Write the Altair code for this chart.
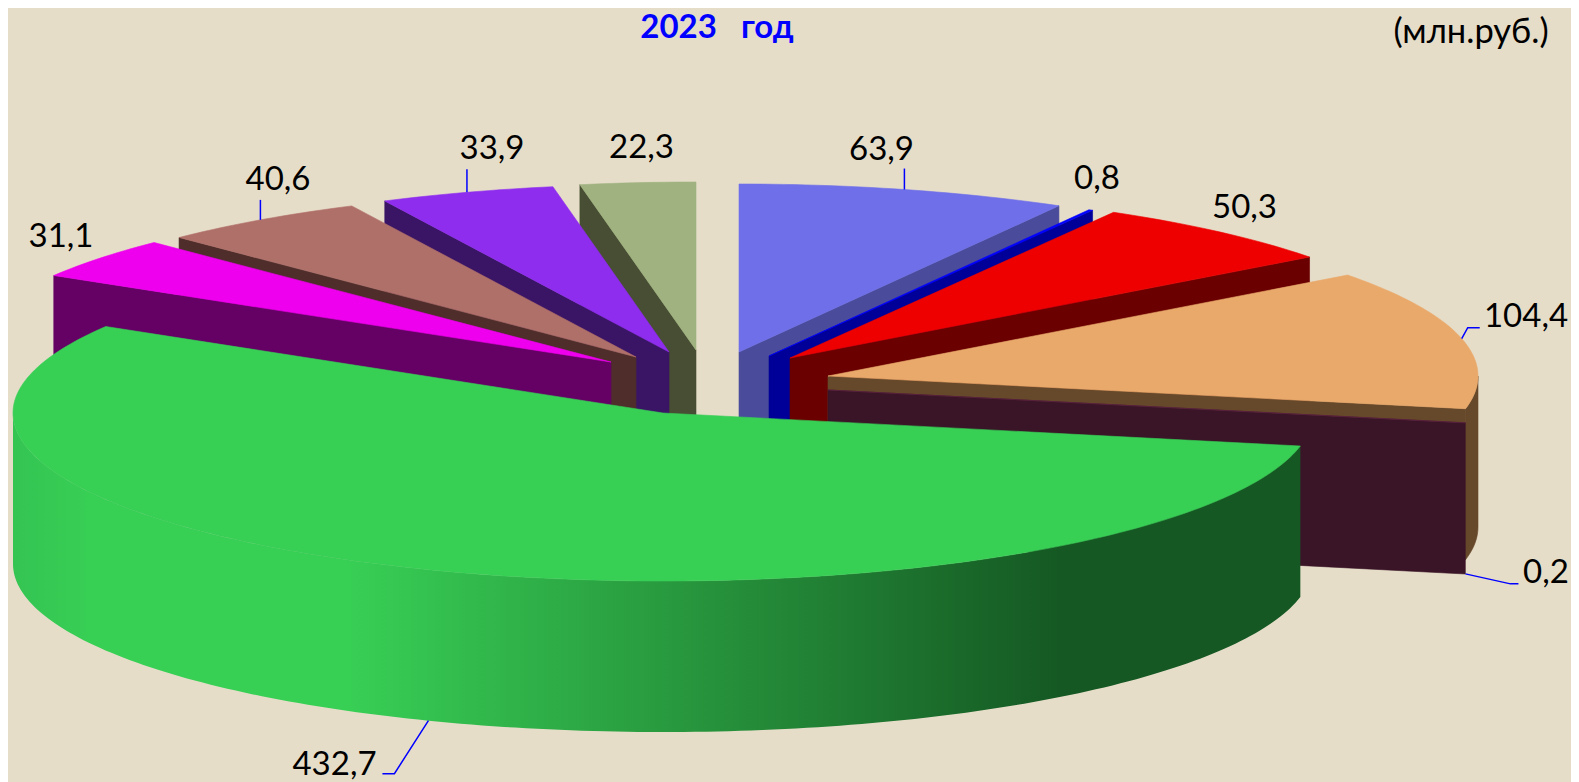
import math
import altair as alt
import pandas as pd

# ---- data (clockwise from 12 o'clock) ----
values = [63.9, 0.8, 50.3, 104.4, 0.2, 432.7, 31.1, 40.6, 33.9, 22.3]
top_colors = ["#6E6FE9", "#0000FF", "#EE0000", "#E9A96B", "#5A2240",
              "#38CF55", "#EE00EE", "#B0706A", "#8E2DEE", "#9FB27F"]
wall_colors = ["#4A4C9B", "#000099", "#6A0000", "#66482A", "#3A1527",
               "#155823", "#650065", "#4E2D2B", "#3B1565", "#474E33"]
title_text = "2023\u00a0\u00a0\u00a0год"
unit_text = "(млн.руб.)"

# ---- layout of the tilted, exploded pie (page pixels) ----
RX, RY, DEPTH = 650, 168, 151
pivots = [(739, 352), (769, 356), (790, 358), (828, 376), (828, 390),
          (663, 413), (611, 362), (636, 357), (669, 352), (696, 350)]
label_pos = [(881.5, 160), (1097, 189), (1244.5, 218), (1526, 327), (1546, 583),
             (334.5, 775), (61, 247), (278, 190), (492, 159), (641.5, 158)]
# leader bends, relative to the anchor on the rim of each slice
leader_steps = {0: [(0, -21)], 3: [(6, -11), (18, -11)], 4: [(45, 10), (53, 10)],
                5: [(-34, 53), (-46, 53)], 7: [(0, -20)], 8: [(0, -23)]}
FONT = "Lato"
LABEL_SIZE = 33
W, H = 1563, 774
BG = "#E6DDC9"

xs = alt.X("x:Q", scale=alt.Scale(domain=[8, 8 + W], nice=False, zero=False), axis=None)
ys = alt.Y("y:Q", scale=alt.Scale(domain=[8 + H, 8], nice=False, zero=False), axis=None)

total = sum(values)
bounds = [0.0]
for v in values:
    bounds.append(bounds[-1] + v / total * 360)


def rim(i, deg):
    t = math.radians(deg)
    return pivots[i][0] + RX * math.sin(t), pivots[i][1] - RY * math.cos(t)


def arc(i, a, b):
    n = max(2, int(abs(b - a)) + 2)
    return [rim(i, a + (b - a) * k / (n - 1)) for k in range(n)]


def poly(points, fill, seam=True):
    df = pd.DataFrame({"x": [p[0] for p in points] + [points[0][0]],
                       "y": [p[1] for p in points] + [points[0][1]]})
    df["i"] = range(len(df))
    mark = alt.Chart(df).mark_line(fill=fill, stroke=fill if seam else "transparent",
                                   strokeWidth=0.6 if seam else 0, clip=False)
    return mark.encode(x=xs, y=ys, order=alt.Order("i:Q"))


def top_face(i):
    return poly([pivots[i]] + arc(i, bounds[i], bounds[i + 1]), top_colors[i])


def cut_face(i, deg):
    p, r = pivots[i], rim(i, deg)
    return poly([p, r, (r[0], r[1] + DEPTH), (p[0], p[1] + DEPTH)], wall_colors[i])


def outer_wall(i, a, b, fill, seam=True):
    upper = arc(i, a, b)
    lower = [(x, y + DEPTH) for x, y in reversed(upper)]
    return poly(upper + lower, fill, seam)


layers = []
# right half, back to front
for i in range(0, 5):
    layers.append(cut_face(i, bounds[i + 1]))
    if i == 3:
        layers.append(outer_wall(i, 90, bounds[i + 1], wall_colors[i]))
    layers.append(top_face(i))
# left half, back to front
for i in range(9, 5, -1):
    layers.append(cut_face(i, bounds[i]))
    layers.append(top_face(i))
# the big slice in front
green_fill = alt.LinearGradient(
    gradient="linear", x1=0, x2=1, y1=0, y2=0,
    stops=[alt.GradientStop(offset=0, color="#34C452"),
           alt.GradientStop(offset=0.06, color="#38CF55"),
           alt.GradientStop(offset=0.26, color="#38CF55"),
           alt.GradientStop(offset=0.813, color="#155823"),
           alt.GradientStop(offset=1, color="#155823")])
layers.append(outer_wall(5, bounds[5], 270, green_fill, seam=False))
layers.append(top_face(5))

# leaders
rows = []
for i, steps in leader_steps.items():
    mid = (bounds[i] + bounds[i + 1]) / 2
    ax, ay = rim(i, mid)
    if i in (4, 5):
        ay += DEPTH
    rows.append({"s": i, "i": 0, "x": ax, "y": ay})
    for k, (dx, dy) in enumerate(steps, 1):
        rows.append({"s": i, "i": k, "x": ax + dx, "y": ay + dy})
layers.append(alt.Chart(pd.DataFrame(rows)).mark_line(stroke="#0000FF", strokeWidth=1.5).encode(
    x=xs, y=ys, detail="s:N", order=alt.Order("i:Q")))

# value labels
labels = pd.DataFrame({"x": [p[0] for p in label_pos], "y": [p[1] for p in label_pos],
                       "t": [f"{v:.1f}".replace(".", ",") for v in values]})
layers.append(alt.Chart(labels).mark_text(font=FONT, fontSize=LABEL_SIZE, color="#000000",
                                          align="center", baseline="alphabetic").encode(
    x=xs, y=ys, text="t:N"))

# title and unit
layers.append(alt.Chart(pd.DataFrame({"x": [717], "y": [38], "t": [title_text]})).mark_text(
    font=FONT, fontSize=33, fontWeight="bold", color="#0000FF", align="center",
    baseline="alphabetic").encode(x=xs, y=ys, text="t:N"))
layers.append(alt.Chart(pd.DataFrame({"x": [1471], "y": [43], "t": [unit_text]})).mark_text(
    font=FONT, fontSize=34.5, color="#000000", align="center",
    baseline="alphabetic").encode(x=xs, y=ys, text="t:N"))

chart = alt.layer(*layers).properties(
    width=W, height=H, background=BG, padding=0,
    autosize=alt.AutoSizeParams(type="none"),
).configure_view(stroke=None)

chart.save("out.html", embed_options={"renderer": "svg", "actions": False})
